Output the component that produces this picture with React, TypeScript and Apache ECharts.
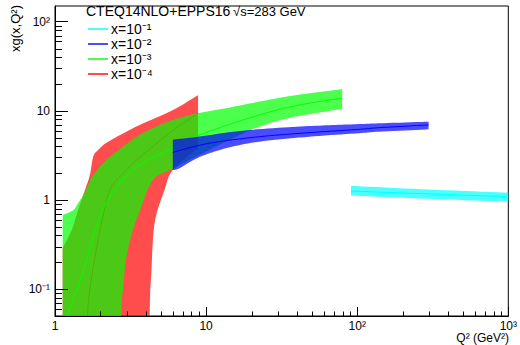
import React, { useEffect, useRef } from 'react';
import * as echarts from 'echarts';

const FONT = "'Liberation Sans', Arial, Helvetica, sans-serif";

// [Q^2, xg] points
// x = 1e-4 (red)
const redUpper = [[1.124, 0.29], [1.29, 0.46], [1.42, 0.77], [1.58, 1.3], [1.7, 1.9], [1.79, 3.06], [1.93, 3.64], [2.25, 4.51], [3.54, 6.8], [5.9, 10.0], [8.85, 15.0]];
const redLower = [[1.124, 0.001], [4.15, 0.001], [4.23, 0.05], [4.34, 0.152], [4.56, 0.55], [5.31, 1.3], [6.02, 2.17], [8.85, 3.8]];
const redCentral = [[1.6, 0.01], [1.64, 0.05], [1.7, 0.098], [1.84, 0.23], [2.03, 0.55], [2.31, 1.3], [2.75, 1.9], [3.63, 3.0], [6.02, 6.0], [8.85, 9.4]];

// x = 1e-3 (green)
const greenUpper = [[1.124, 0.68], [1.32, 0.77], [1.42, 0.92], [1.54, 1.14], [1.66, 1.47], [1.79, 1.91], [2.19, 2.81], [2.82, 3.97], [3.63, 5.37], [4.68, 6.66], [6.02, 7.91], [8.8, 9.4], [13.5, 10.7], [22.5, 12.7], [37.2, 14.8], [79.5, 17.5]];
const greenLower = [[1.124, 0.001], [2.7, 0.001], [2.75, 0.05], [2.82, 0.098], [2.97, 0.23], [3.28, 0.46], [3.73, 0.84], [4.1, 1.3], [4.68, 1.83], [6.02, 2.23], [7.38, 2.69], [9.03, 3.2], [11.6, 3.97], [15.8, 5.13], [22.5, 6.65], [37.2, 8.47], [79.5, 10.5]];
const greenCentral = [[1.2, 0.02], [1.22, 0.05], [1.5, 0.138], [1.88, 0.5], [2.14, 0.88], [2.75, 1.6], [3.63, 2.47], [6.02, 3.83], [9.03, 5.37], [22.5, 9.0], [41.2, 11.6], [79.5, 13.9]];

// x = 1e-2 (blue)
const blueUpper = [[6.02, 4.75], [9.03, 5.15], [17.4, 6.0], [37.2, 6.6], [65, 6.9], [102.5, 7.1], [138.8, 7.25], [296.6, 7.56]];
const blueLower = [[6.02, 2.17], [6.67, 2.27], [9.03, 3.03], [13.5, 3.8], [22.5, 4.51], [48, 5.13], [102.5, 5.61], [138.8, 5.84], [296.6, 6.2]];
const blueCentral = [[6.02, 3.43], [10.5, 4.33], [22.5, 5.13], [48, 5.69], [102.5, 6.2], [138.8, 6.47], [296.6, 6.95]];

// x = 1e-1 (cyan)
const cyanUpper = [[91, 1.44], [300, 1.31], [1000, 1.21]];
const cyanLower = [[91, 1.12], [300, 1.03], [1000, 0.957]];
const cyanCentral = [[91, 1.26], [300, 1.17], [1000, 1.09]];

const legendLabels = ['x=10\u207B\u00B9', 'x=10\u207B\u00B2', 'x=10\u207B\u00B3', 'x=10\u207B\u2074'];
const legendColors = ['rgba(0,255,255,0.7)', 'rgba(0,0,255,0.7)', 'rgba(0,255,0,0.7)', 'rgba(255,0,0,0.7)'];
const titleMain = 'CTEQ14NLO+EPPS16';
const titleEnergy = '\u221As=283 GeV';

const xMinorTicks = [2, 3, 4, 5, 6, 7, 8, 9, 20, 30, 40, 50, 60, 70, 80, 90, 200, 300, 400, 500, 600, 700, 800, 900];
const yMinorTicks = [0.06, 0.07, 0.08, 0.09, 0.2, 0.3, 0.4, 0.5, 0.6, 0.7, 0.8, 0.9, 2, 3, 4, 5, 6, 7, 8, 9, 20, 30, 40, 50, 60, 70, 80, 90];

const SUP: Record<string, string> = { '-': '\u207B', '0': '\u2070', '1': '\u00B9', '2': '\u00B2', '3': '\u00B3', '4': '\u2074', '5': '\u2075', '6': '\u2076', '7': '\u2077', '8': '\u2078', '9': '\u2079' };
function fmtPow(v: number) {
  const e = Math.round(Math.log10(v));
  if (e === 0) return '1';
  if (e === 1) return '10';
  return '10' + String(e).split('').map((c) => SUP[c]).join('');
}

// Catmull-Rom smoothing in pixel space (rendering only)
function smoothPix(pts: number[][], n = 10) {
  if (pts.length < 3) return pts;
  const out: number[][] = [];
  for (let i = 0; i < pts.length - 1; i++) {
    const p0 = pts[i - 1] || pts[i];
    const p1 = pts[i];
    const p2 = pts[i + 1];
    const p3 = pts[i + 2] || pts[i + 1];
    for (let s = 0; s < n; s++) {
      const t = s / n;
      const t2 = t * t;
      const t3 = t2 * t;
      const f = (a: number, b: number, c: number, d: number) =>
        0.5 * (2 * b + (-a + c) * t + (2 * a - 5 * b + 4 * c - d) * t2 + (-a + 3 * b - 3 * c + d) * t3);
      out.push([f(p0[0], p1[0], p2[0], p3[0]), f(p0[1], p1[1], p2[1], p3[1])]);
    }
  }
  out.push(pts[pts.length - 1]);
  return out;
}

function bandSeries(upper: number[][], lower: number[][], central: number[][], fill: string, lineColor: string, z: number) {
  return {
    type: 'custom',
    coordinateSystem: 'cartesian2d',
    clip: true,
    z,
    silent: true,
    data: [upper[0]],
    renderItem: (params: any, api: any) => {
      const up = smoothPix(upper.map((p) => api.coord(p)));
      const lo = smoothPix(lower.map((p) => api.coord(p))).reverse();
      const line = smoothPix(central.map((p) => api.coord(p)));
      return {
        type: 'group',
        children: [
          { type: 'polygon', shape: { points: [...up, ...lo] }, style: { fill, stroke: null } },
          { type: 'polyline', shape: { points: line }, style: { stroke: lineColor, lineWidth: 1, fill: null } },
        ],
      };
    },
  };
}

function tickSeries(values: number[], dir: 'x' | 'y', len: number) {
  return {
    type: 'custom',
    coordinateSystem: 'cartesian2d',
    clip: false,
    z: 10,
    silent: true,
    data: values.map((v) => (dir === 'x' ? [v, 1] : [1, v])),
    renderItem: (params: any, api: any) => {
      const cs = params.coordSys;
      if (dir === 'x') {
        const p = api.coord([api.value(0), 1]);
        const x = Math.round(p[0]) + 0.5;
        const yb = cs.y + cs.height;
        return { type: 'line', shape: { x1: x, y1: yb, x2: x, y2: yb - len }, style: { stroke: '#000', lineWidth: 1 } };
      }
      const p = api.coord([1, api.value(1)]);
      const y = Math.round(p[1]) + 0.5;
      return { type: 'line', shape: { x1: cs.x, y1: y, x2: cs.x + len, y2: y }, style: { stroke: '#000', lineWidth: 1 } };
    },
  };
}

export default function App() {
  const ref = useRef<HTMLDivElement>(null);
  useEffect(() => {
    if (!ref.current) return;
    const chart = echarts.init(ref.current, undefined, { renderer: 'svg' });
    const legendY = [29, 44, 59, 74];
    const graphic: any[] = [
      { type: 'text', x: 86, y: 11, z: 20, style: { text: titleMain, fontSize: 14, fontFamily: FONT, fill: '#000', align: 'left', verticalAlign: 'middle' } },
      { type: 'text', x: 233, y: 11, z: 20, style: { text: titleEnergy, fontSize: 13, fontFamily: FONT, fill: '#000', align: 'left', verticalAlign: 'middle' } },
      { type: 'text', x: 15, y: 5, rotation: Math.PI / 2, z: 20, style: { text: 'xg(x,Q\u00B2)', fontSize: 13, fontFamily: FONT, fill: '#000', align: 'right', verticalAlign: 'middle' } },
      { type: 'text', x: 509, y: 338, z: 20, style: { text: 'Q\u00B2 (GeV\u00B2)', fontSize: 12, fontFamily: FONT, fill: '#000', align: 'right', verticalAlign: 'middle' } },
    ];
    legendLabels.forEach((lab, i) => {
      graphic.push({ type: 'line', z: 20, shape: { x1: 88, y1: legendY[i], x2: 108, y2: legendY[i] }, style: { stroke: legendColors[i], lineWidth: 2 } });
      graphic.push({ type: 'text', x: 111, y: legendY[i], z: 20, style: { text: lab, fontSize: 14, fontFamily: FONT, fill: '#000', align: 'left', verticalAlign: 'middle' } });
    });
    chart.setOption({
      animation: false,
      backgroundColor: '#fff',
      grid: { left: 55, right: 10, top: 6, bottom: 29, show: true, borderColor: '#000', borderWidth: 1, backgroundColor: 'transparent' },
      xAxis: {
        type: 'log', logBase: 10, min: 1, max: 1000, z: 10,
        axisLine: { show: true, onZero: false, lineStyle: { color: '#000', width: 1 } },
        axisTick: { show: true, inside: true, length: 9, lineStyle: { color: '#000' } },
        splitLine: { show: false },
        axisLabel: { formatter: fmtPow, fontSize: 12, color: '#000', fontFamily: FONT, margin: 4 },
      },
      yAxis: {
        type: 'log', logBase: 10, min: 0.05, max: 150, z: 10,
        axisLine: { show: true, onZero: false, lineStyle: { color: '#000', width: 1 } },
        axisTick: { show: true, inside: true, length: 13, lineStyle: { color: '#000' } },
        splitLine: { show: false },
        axisLabel: { formatter: fmtPow, fontSize: 12, color: '#000', fontFamily: FONT, margin: 5, showMinLabel: false, showMaxLabel: false },
      },
      series: [
        bandSeries(redUpper, redLower, redCentral, 'rgba(255,0,0,0.7)', '#ff0000', 2),
        bandSeries(greenUpper, greenLower, greenCentral, 'rgba(0,255,0,0.7)', '#00ff00', 3),
        bandSeries(blueUpper, blueLower, blueCentral, 'rgba(0,0,255,0.7)', '#0000ff', 4),
        bandSeries(cyanUpper, cyanLower, cyanCentral, 'rgba(0,255,255,0.7)', '#00ffff', 5),
        tickSeries(xMinorTicks, 'x', 4.5),
        tickSeries(yMinorTicks, 'y', 7),
      ],
      graphic,
    });
    return () => chart.dispose();
  }, []);
  return <div ref={ref} style={{ position: 'fixed', left: 0, top: 0, width: 520, height: 345 }} />;
}
